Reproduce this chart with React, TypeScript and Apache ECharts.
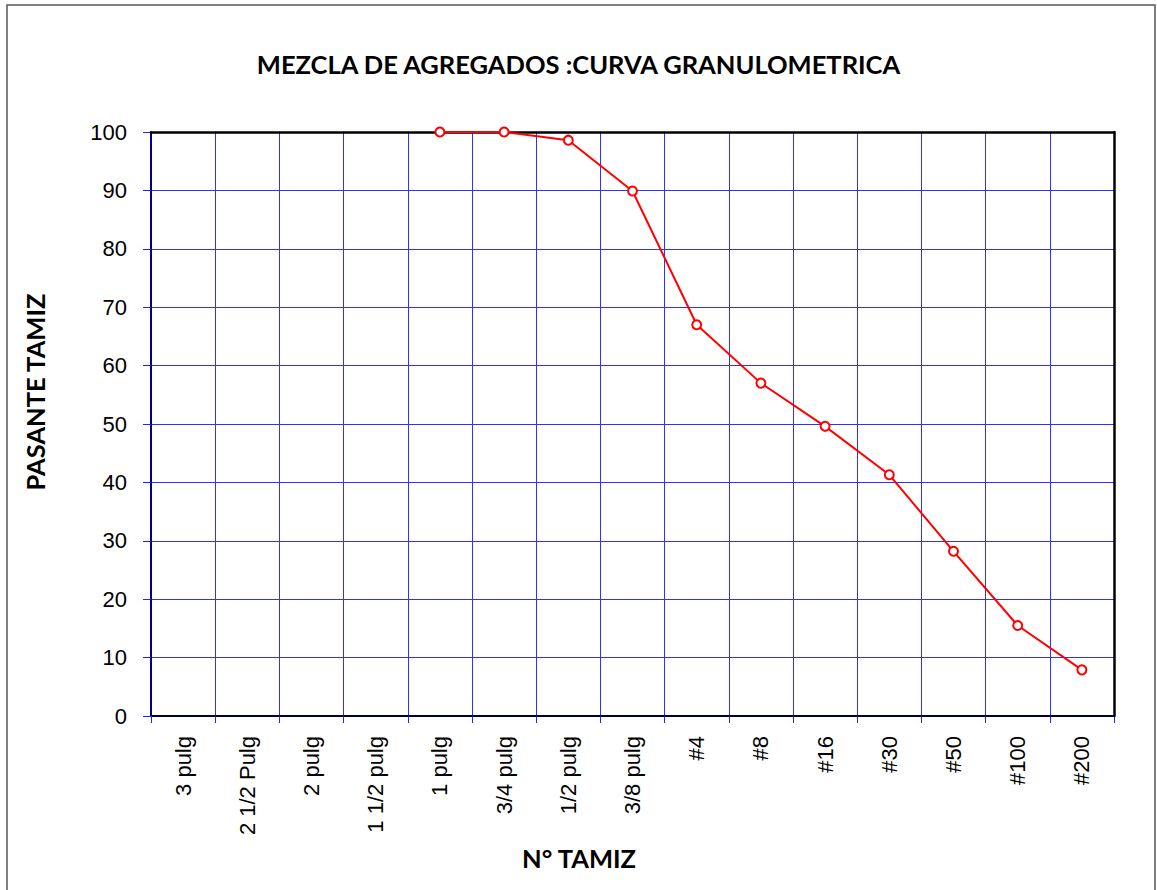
import React, { useEffect, useRef } from "react";
import * as echarts from "echarts";

const categories = [
  "3 pulg",
  "2 1/2 Pulg",
  "2 pulg",
  "1 1/2 pulg",
  "1 pulg",
  "3/4 pulg",
  "1/2 pulg",
  "3/8 pulg",
  "#4",
  "#8",
  "#16",
  "#30",
  "#50",
  "#100",
  "#200",
];

const pasante: (number | null)[] = [
  null, null, null, null, 100, 100, 98.6, 89.9, 67, 57, 49.6, 41.3, 28.2, 15.5, 7.9,
];

const titleText = "MEZCLA DE AGREGADOS :CURVA GRANULOMETRICA";
const yName = "PASANTE TAMIZ";
const xName = "N° TAMIZ";

export default function App() {
  const ref = useRef<HTMLDivElement>(null);
  useEffect(() => {
    if (!ref.current) return;
    const chart = echarts.init(ref.current, undefined, { renderer: "svg" });
    const sans = "'Liberation Sans', Arial, sans-serif";
    chart.setOption({
      animation: false,
      backgroundColor: "#ffffff",
      title: {
        text: titleText,
        left: "center",
        top: 46,
        textStyle: { fontFamily: "Lato", fontWeight: "bold", fontSize: 25.5, color: "#000" },
      },
      grid: {
        left: 151,
        top: 132,
        right: 43,
        bottom: 174,
        show: false,
      },
      xAxis: [
        {
          type: "category",
          data: categories,
          boundaryGap: true,
          axisLine: { show: true, lineStyle: { color: "#000040", width: 2 } },
          axisTick: { show: true, length: 7, lineStyle: { color: "#2020ff", width: 1 } },
          splitLine: { show: true, lineStyle: { color: "#3030ff", width: 1 } },
          axisLabel: {
            rotate: 90,
            margin: 20,
            color: "#000",
            fontSize: 22,
            fontFamily: sans,
            interval: 0,
          },
          z: 1,
        },
        {
          type: "category",
          data: categories,
          position: "top",
          axisLine: { show: true, onZero: false, lineStyle: { color: "#000", width: 2.5 } },
          axisTick: { show: false },
          axisLabel: { show: false },
          splitLine: { show: false },
          z: 20,
        },
      ],
      yAxis: [
        {
          type: "value",
          min: 0,
          max: 100,
          interval: 10,
          axisLine: { show: true, lineStyle: { color: "#000080", width: 2 } },
          axisTick: { show: true, length: 8, lineStyle: { color: "#2020ff", width: 1 } },
          splitLine: { show: true, lineStyle: { color: "#3030ff", width: 1 } },
          axisLabel: { margin: 24, color: "#000", fontSize: 22, fontFamily: sans },
          z: 1,
        },
        {
          type: "value",
          min: 0,
          max: 100,
          interval: 10,
          position: "right",
          axisLine: { show: true, onZero: false, lineStyle: { color: "#000", width: 2.5 } },
          axisTick: { show: false },
          axisLabel: { show: false },
          splitLine: { show: false },
          z: 20,
        },
      ],
      graphic: [
        {
          type: "rect",
          shape: { x: 7, y: 5, width: 1148, height: 900 },
          style: { fill: "none", stroke: "#555", lineWidth: 1.5 },
          silent: true,
          z: 100,
        },
        {
          type: "text",
          x: 35,
          y: 392,
          rotation: Math.PI / 2,
          style: {
            text: yName,
            fontFamily: "Lato",
            fontWeight: "bold",
            fontSize: 25.5,
            fill: "#000",
            align: "center",
            verticalAlign: "middle",
          },
        },
        {
          type: "text",
          x: 579,
          y: 858,
          style: {
            text: xName,
            fontFamily: "Lato",
            fontWeight: "bold",
            fontSize: 25.5,
            fill: "#000",
            align: "center",
            verticalAlign: "middle",
          },
        },
      ],
      series: [
        {
          type: "line",
          data: pasante,
          connectNulls: false,
          symbol: "emptyCircle",
          symbolSize: 9,
          lineStyle: { color: "#ff0000", width: 2 },
          itemStyle: { color: "#ff0000", borderColor: "#ff0000", borderWidth: 1.5 },
          z: 30,
        },
      ],
    });
    return () => chart.dispose();
  }, []);
  return (
    <div
      ref={ref}
      style={{ position: "fixed", left: 0, top: 0, width: 1157, height: 890, background: "#fff" }}
    />
  );
}
